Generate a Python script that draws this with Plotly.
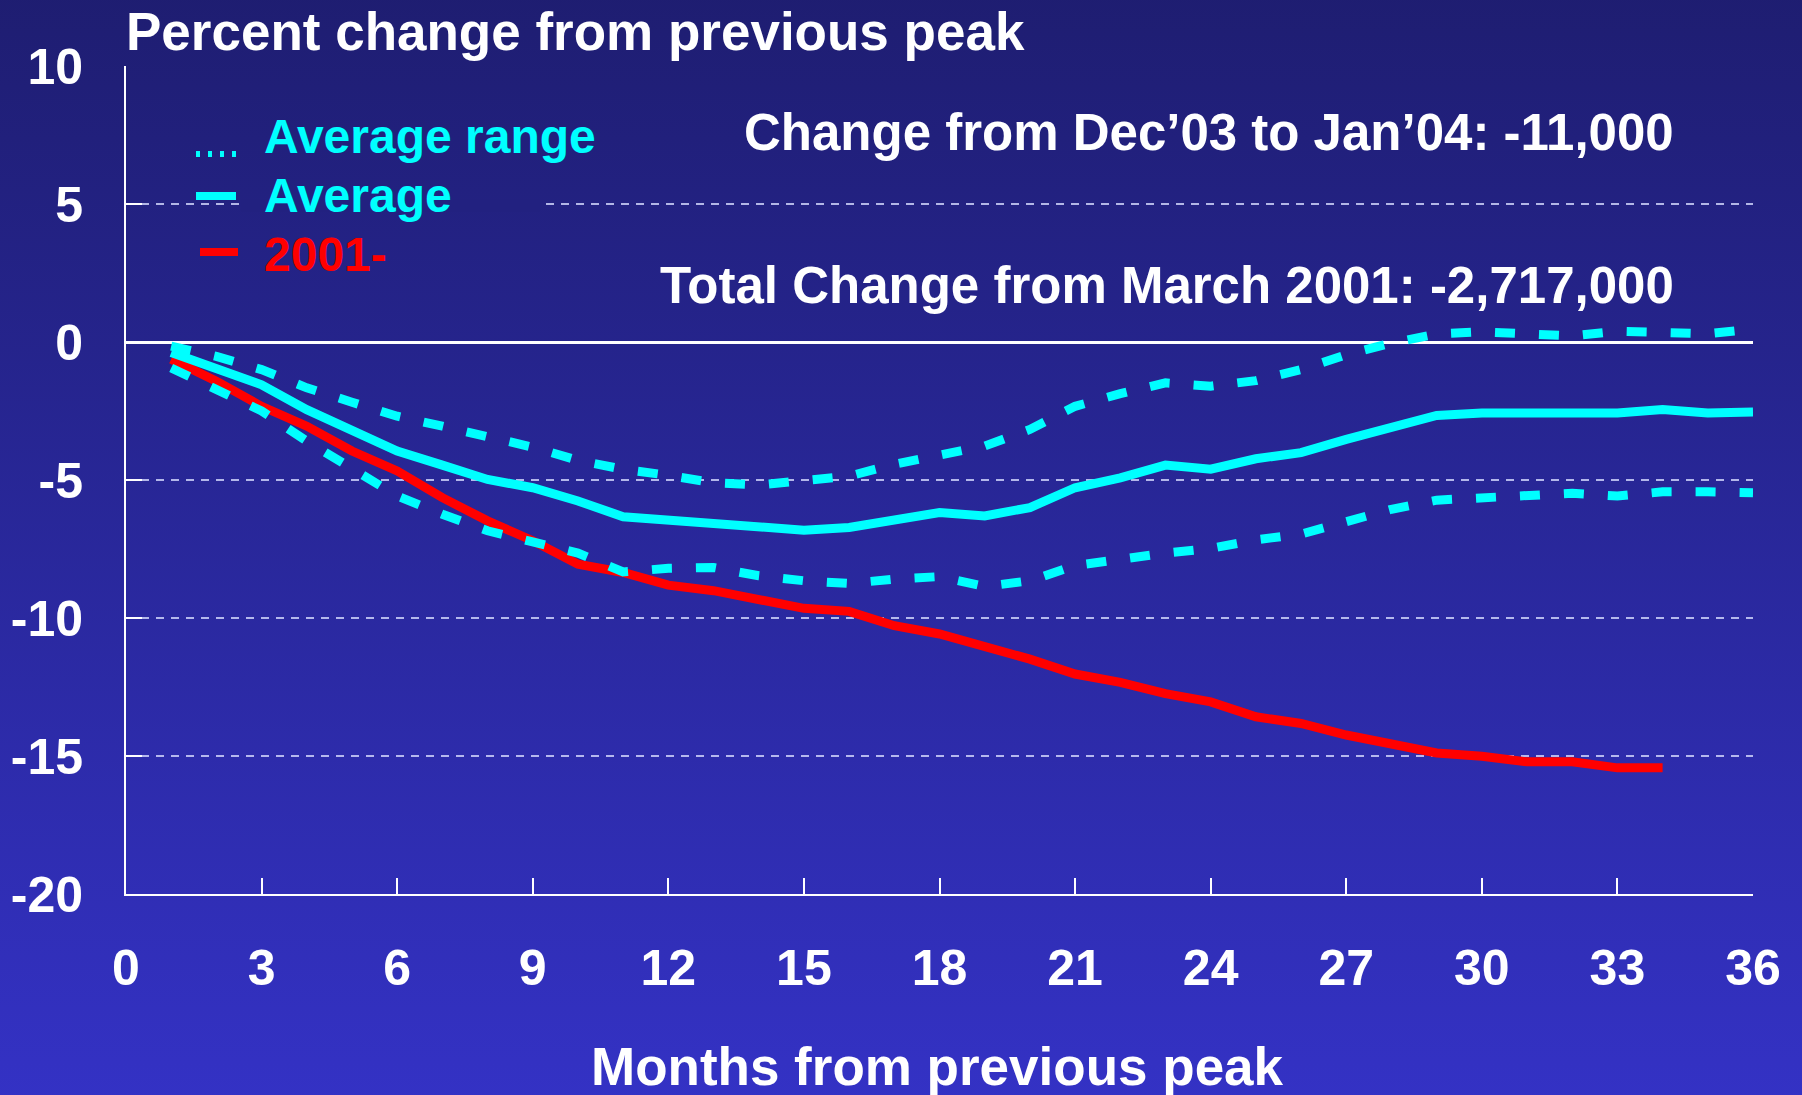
import base64
import plotly.graph_objects as go

# ---------------- data ----------------
months = [1, 2, 3, 4, 5, 6, 7, 8, 9, 10, 11, 12, 13, 14, 15, 16, 17, 18,
          19, 20, 21, 22, 23, 24, 25, 26, 27, 28, 29, 30, 31, 32, 33, 34, 35, 36]

average = [-0.38, -0.98, -1.55, -2.45, -3.17, -3.95, -4.46, -4.98, -5.28, -5.76,
           -6.33, -6.45, -6.54, -6.72, -6.82, -6.72, -6.48, -6.18, -6.30, -6.00,
           -5.28, -4.92, -4.46, -4.61, -4.23, -4.01, -3.53, -3.11, -2.66, -2.57,
           -2.57, -2.57, -2.57, -2.45, -2.57, -2.54]

range_upper = [-0.15, -0.52, -1.00, -1.66, -2.18, -2.69, -3.05, -3.41, -3.81, -4.29,
               -4.61, -4.83, -5.10, -5.18, -5.04, -4.86, -4.43, -4.07, -3.77, -3.17,
               -2.33, -1.87, -1.48, -1.60, -1.40, -1.00, -0.46, -0.04, 0.29, 0.37,
               0.33, 0.22, 0.39, 0.31, 0.30, 0.47]

range_lower = [-0.94, -1.72, -2.50, -3.59, -4.55, -5.58, -6.24, -6.84, -7.24, -7.65,
               -8.33, -8.20, -8.17, -8.47, -8.65, -8.75, -8.59, -8.50, -8.86, -8.65,
               -8.10, -7.84, -7.65, -7.48, -7.17, -6.96, -6.48, -6.06, -5.73, -5.64,
               -5.58, -5.48, -5.58, -5.43, -5.43, -5.46]

months_2001 = [1, 2, 3, 4, 5, 6, 7, 8, 9, 10, 11, 12, 13, 14, 15, 16, 17,
               18, 19, 20, 21, 22, 23, 24, 25, 26, 27, 28, 29, 30, 31, 32, 33, 34]
series_2001 = [-0.62, -1.42, -2.33, -3.05, -3.95, -4.67, -5.64, -6.48, -7.20, -8.05,
               -8.35, -8.81, -9.01, -9.31, -9.65, -9.76, -10.28, -10.58, -11.00, -11.49,
               -12.03, -12.33, -12.74, -13.04, -13.58, -13.82, -14.24, -14.60, -14.89,
               -15.01, -15.21, -15.21, -15.43, -15.43]

x_tick_vals = [0, 3, 6, 9, 12, 15, 18, 21, 24, 27, 30, 33, 36]
x_tick_text = ["0", "3", "6", "9", "12", "15", "18", "21", "24", "27", "30", "33", "36"]
y_tick_vals = [10, 5, 0, -5, -10, -15, -20]
y_tick_text = ["10", "5", "0", "-5", "-10", "-15", "-20"]

title_text = "Percent change from previous peak"
x_title_text = "Months from previous peak"
note_1 = "Change from Dec\u201903 to Jan\u201904: -11,000"
note_2 = "Total Change from March 2001: -2,717,000"
legend_labels = ["Average range", "Average", "2001-"]

# ---------------- layout geometry ----------------
W, H = 1802, 1095
ML, MR, MT, MB = 126, 49, 66, 201
PW = W - ML - MR
PH = H - MT - MB

CYAN = "#00FFFF"
RED = "#FF0000"
WHITE = "#FFFFFF"
FONT = "Liberation Sans, Arial, Helvetica, sans-serif"

TOP_C = (30, 29, 112)
BOT_C = (52, 50, 198)


def px(x):
    return (x - ML) / PW


def py(y):
    return (H - MB - y) / PH


def bg_at(y):
    t = y / H
    c = [round(a + (b - a) * t) for a, b in zip(TOP_C, BOT_C)]
    return "rgb({},{},{})".format(*c)


svg = (
    '<svg xmlns="http://www.w3.org/2000/svg" width="{w}" height="{h}" '
    'viewBox="0 0 {w} {h}" preserveAspectRatio="none">'
    '<defs><linearGradient id="g" x1="0" y1="0" x2="0" y2="1">'
    '<stop offset="0" stop-color="rgb({t0},{t1},{t2})"/>'
    '<stop offset="1" stop-color="rgb({b0},{b1},{b2})"/>'
    '</linearGradient></defs>'
    '<rect x="0" y="0" width="{w}" height="{h}" fill="url(#g)"/></svg>'
).format(w=W, h=H, t0=TOP_C[0], t1=TOP_C[1], t2=TOP_C[2],
         b0=BOT_C[0], b1=BOT_C[1], b2=BOT_C[2])
bg_src = "data:image/svg+xml;base64," + base64.b64encode(svg.encode()).decode()

fig = go.Figure()

LW = 9
DASH = "20px,24px"
fig.add_trace(go.Scatter(x=months_2001, y=series_2001, mode="lines",
                         line=dict(color=RED, width=LW), name=legend_labels[2]))
fig.add_trace(go.Scatter(x=months, y=average, mode="lines",
                         line=dict(color=CYAN, width=LW), name=legend_labels[1]))
fig.add_trace(go.Scatter(x=months, y=range_upper, mode="lines",
                         line=dict(color=CYAN, width=LW, dash=DASH),
                         name=legend_labels[0]))
fig.add_trace(go.Scatter(x=months, y=range_lower, mode="lines",
                         line=dict(color=CYAN, width=LW, dash=DASH),
                         name=legend_labels[0]))

tickfont = dict(family=FONT, size=50, color=WHITE, weight="bold")

fig.update_xaxes(
    range=[0, 36], tickvals=x_tick_vals, ticktext=x_tick_text,
    showgrid=False, zeroline=False,
    showline=True, linecolor=WHITE, linewidth=2,
    ticks="inside", ticklen=16, tickwidth=2, tickcolor=WHITE,
    tickfont=tickfont, ticklabelstandoff=29, fixedrange=True,
)
fig.update_yaxes(
    range=[-20, 10], tickvals=y_tick_vals, ticktext=y_tick_text,
    showgrid=True, gridcolor="rgba(215,220,255,0.8)", gridwidth=1.5, griddash="8px,7px",
    zeroline=True, zerolinecolor=WHITE, zerolinewidth=3,
    showline=True, linecolor=WHITE, linewidth=2,
    ticks="inside", ticklen=16, tickwidth=2, tickcolor=WHITE,
    tickfont=tickfont, ticklabelstandoff=31, fixedrange=True,
)

annotations = [
    dict(text=title_text, x=px(123.5), y=py(31), xanchor="left", yanchor="middle",
         font=dict(family=FONT, size=53, color=WHITE, weight="bold")),
    dict(text=x_title_text, x=px(937), y=py(1066), xanchor="center", yanchor="middle",
         font=dict(family=FONT, size=53, color=WHITE, weight="bold")),
    dict(text=note_1, x=px(1676), y=py(132), xanchor="right", yanchor="middle",
         font=dict(family=FONT, size=51, color=WHITE, weight="bold")),
    dict(text=note_2, x=px(1676), y=py(285), xanchor="right", yanchor="middle",
         font=dict(family=FONT, size=51, color=WHITE, weight="bold")),
    dict(text=legend_labels[0], x=px(261.5), y=py(136), xanchor="left", yanchor="middle",
         font=dict(family=FONT, size=48, color=CYAN, weight="bold")),
    dict(text=legend_labels[1], x=px(261.5), y=py(195), xanchor="left", yanchor="middle",
         font=dict(family=FONT, size=48, color=CYAN, weight="bold")),
    dict(text=legend_labels[2], x=px(261.5), y=py(254), xanchor="left", yanchor="middle",
         font=dict(family=FONT, size=48, color=RED, weight="bold")),
]
for a in annotations:
    a.update(xref="paper", yref="paper", showarrow=False)

shapes = [
    # mask the gridline behind the legend text box
    dict(type="rect", xref="paper", yref="paper", x0=px(241), x1=px(540),
         y0=py(212), y1=py(199), fillcolor=bg_at(205), line=dict(width=0),
         layer="above"),
    # legend symbols
    dict(type="line", xref="paper", yref="paper", x0=px(196), x1=px(238),
         y0=py(154), y1=py(154), line=dict(color=CYAN, width=6, dash="4px,8px"),
         layer="above"),
    dict(type="line", xref="paper", yref="paper", x0=px(196), x1=px(236),
         y0=py(196), y1=py(196), line=dict(color=CYAN, width=8), layer="above"),
    dict(type="line", xref="paper", yref="paper", x0=px(200), x1=px(238),
         y0=py(252), y1=py(252), line=dict(color=RED, width=8), layer="above"),
]

fig.update_layout(
    width=W, height=H, autosize=False,
    margin=dict(l=ML, r=MR, t=MT, b=MB, pad=0),
    paper_bgcolor=bg_at(H / 2), plot_bgcolor="rgba(0,0,0,0)",
    showlegend=False, hovermode=False,
    annotations=annotations, shapes=shapes,
    images=[dict(source=bg_src, xref="paper", yref="paper",
                 x=px(-20), y=py(-20), sizex=(W + 40) / PW, sizey=(H + 40) / PH,
                 xanchor="left", yanchor="top", sizing="stretch",
                 layer="below", opacity=1)],
)

fig.write_html("out.html", config={"displayModeBar": False, "staticPlot": True},
               post_script="document.body.style.margin='0';document.body.style.overflow='hidden';")
